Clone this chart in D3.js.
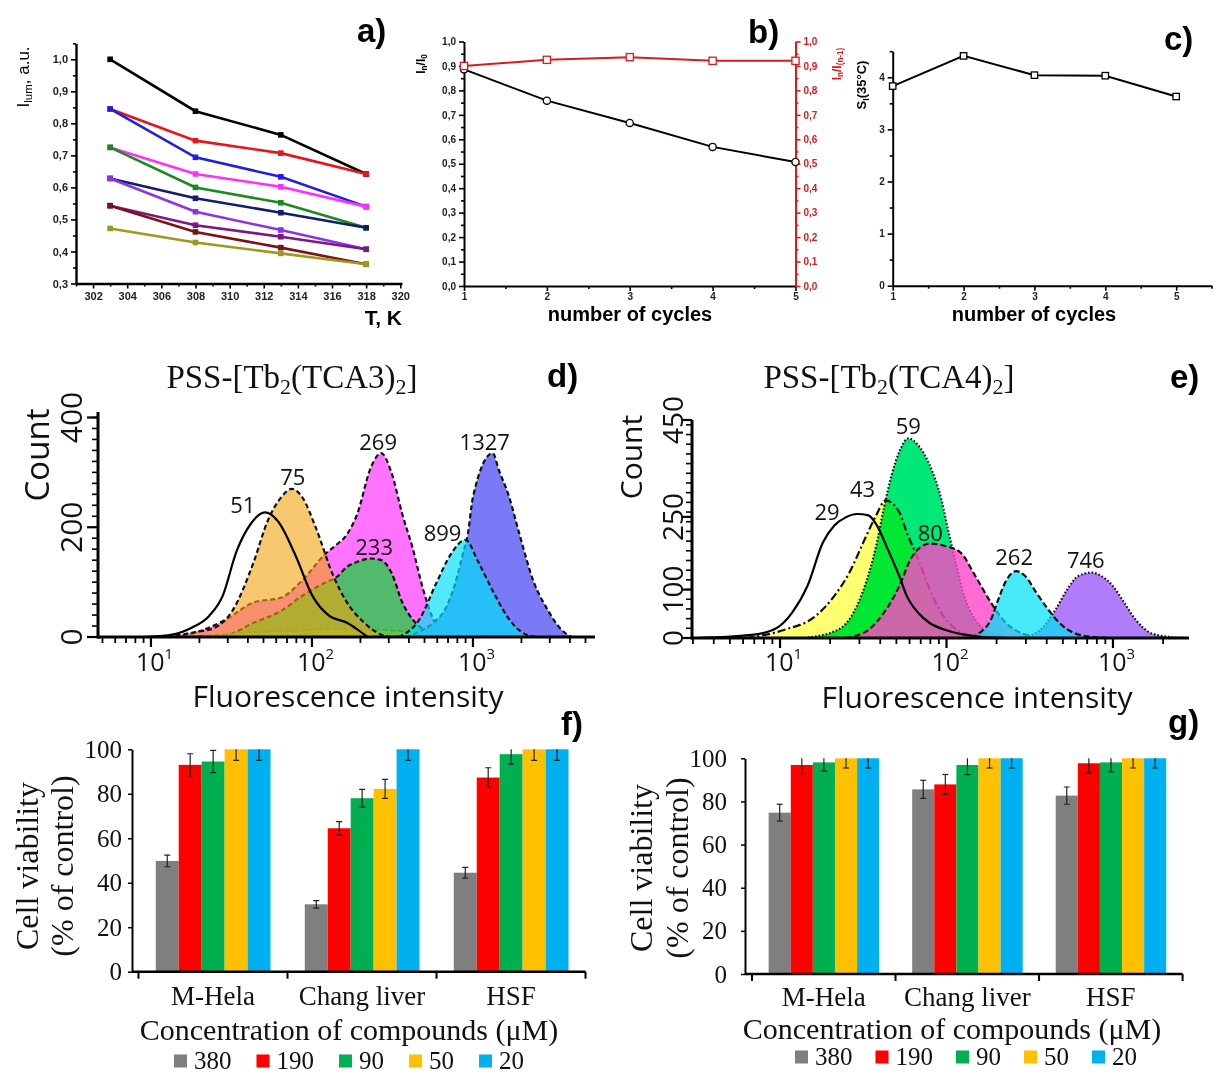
<!DOCTYPE html>
<html>
<head>
<meta charset="utf-8">
<title>Tb complexes: thermometry, cellular uptake and viability</title>
<script src="https://cdn.jsdelivr.net/npm/d3@7/dist/d3.min.js"></script>
<style>
  html, body { margin: 0; padding: 0; background: #ffffff; }
  svg { display: block; }
</style>
</head>
<body>
<svg id="figure" width="1214" height="1076"></svg>
<script>
// ---------- a) luminescence intensity vs temperature ----------
const aTemps = [303, 308, 313, 318];
const aSeries1 = [1.000, 0.838, 0.764, 0.642];
const aSeries2 = [0.845, 0.746, 0.707, 0.642];
const aSeries3 = [0.845, 0.694, 0.633, 0.540];
const aSeries4 = [0.725, 0.642, 0.602, 0.540];
const aSeries5 = [0.725, 0.600, 0.552, 0.474];
const aSeries6 = [0.628, 0.566, 0.521, 0.474];
const aSeries7 = [0.628, 0.524, 0.467, 0.407];
const aSeries8 = [0.543, 0.482, 0.446, 0.407];
const aSeries9 = [0.543, 0.461, 0.412, 0.360];
const aSeries10 = [0.472, 0.428, 0.394, 0.360];
const aColors = ['#000000', '#e8141c', '#1f1fe0', '#ff2eff', '#1c8a1c',
                 '#141c70', '#8a33e8', '#7a1a80', '#7d1212', '#9c9a1e'];

// ---------- b) cycling stability ----------
const bCycles = [1, 2, 3, 4, 5];
const bRatioToFirst = [0.886, 0.758, 0.667, 0.569, 0.507];   // I_n / I_0
const bRatioToPrev = [0.900, 0.925, 0.936, 0.921, 0.921];    // I_n / I_(n-1)

// ---------- c) relative sensitivity at 35 °C ----------
const cCycles = [1, 2, 3, 4, 5];
const cSensitivity = [3.83, 4.41, 4.04, 4.03, 3.63];

// ---------- d) flow cytometry, PSS-[Tb2(TCA3)2]  ([intensity, count]) ----------
const dControl = [[8.97,0],[13.3,4],[17.9,17],[22.9,38],[27.9,75],[34,156],[41.4,205],[51,227],[61.5,211],[78.7,150],[100.7,75],[128.9,38],[165,26],[191,14],[222,0]];
const dPeak75 = [[12.7,0],[19.8,10],[24.1,15],[32.4,50],[43.5,137],[53,211],[64.6,255],[75,270],[86.9,255],[105.8,199],[135.5,112],[165,63],[211,26],[270,4],[300,0]];
const dPeak269 = [[14,0],[19.8,10],[29.3,32],[43.5,63],[64.6,72],[86.9,103],[122.8,153],[142,168],[165,187],[191,224],[233,310],[269,335],[313,298],[364,224],[422,162],[489,88],[567,32],[658,7],[801,0]];
const dPeak233 = [[14,0],[29.3,4],[43.5,26],[64.6,48],[86.9,75],[122.8,100],[142,109],[165,128],[191,137],[233,143],[270,140],[313,116],[364,63],[422,32],[489,14],[596,1],[658,0]];
const dLowTail = [[19.8,0],[43.5,9],[86.9,12],[142,15],[233,14],[382,10],[626,4],[801,0]];
const dPeak899 = [[346,0],[465,32],[596,100],[726,150],[899,177],[1077,137],[1377,75],[1679,32],[2148,4],[2492,0]];
const dPeak1327 = [[382,0],[465,10],[567,26],[690,57],[801,112],[863,150],[929,187],[1000,255],[1327,335],[1449,304],[1679,255],[1946,187],[2372,102],[2891,51],[3525,14],[4084,0]];
const dTicksY = [0, 200, 400];

// ---------- e) flow cytometry, PSS-[Tb2(TCA4)2] ----------
const eControl = [[3.16,0],[6.98,7],[9.58,21],[11.8,52],[14.6,107],[18.1,197],[21.2,232],[24.8,249],[29,256],[34,253],[37.8,235],[44.4,183],[52,128],[57.7,87],[67.6,52],[79.2,31],[97.9,17],[127.6,7],[166,2],[230,0]];
const ePeak43 = [[6.28,0],[10.65,17],[16.3,45],[21.2,87],[26.1,135],[32.3,204],[37.8,253],[43,284],[52,260],[57.7,218],[67.6,163],[79.2,100],[93,52],[115,17],[141,5],[185,0]];
const ePeak59 = [[14,0],[22.3,17],[27.6,52],[32.3,107],[37.8,190],[42,267],[46.8,336],[52,384],[59,412],[67.6,398],[79.2,357],[93,287],[103,218],[115,149],[127.6,87],[149,38],[185,10],[254,0]];
const ePeak80 = [[24.8,0],[34,17],[42,52],[52,107],[60.9,163],[69.4,187],[80,195],[97.9,190],[121,177],[149,128],[185,73],[228,31],[282,10],[367,2],[477,0]];
const ePeak262 = [[141,0],[157,10],[185,38],[205,80],[228,118],[262,138],[297,128],[347,93],[408,59],[477,31],[587,10],[764,2],[945,0]];
const ePeak746 = [[282,0],[367,17],[453,59],[531,100],[620,128],[746,135],[852,128],[1000,107],[1167,73],[1368,38],[1694,10],[2208,2],[2729,0]];
const eTicksY = [0, 100, 250, 450];

// ---------- f), g) cell viability ----------
const cellLines = ['M-Hela', 'Chang liver', 'HSF'];
const concLabels = ['380', '190', '90', '50', '20'];
const concColors = ['#7f7f7f', '#ff0000', '#00b050', '#ffc000', '#00b0f0'];
const f380 = [49.8, 30.3, 44.5];
const f190 = [93.0, 64.5, 87.3];
const f90 = [94.5, 78.0, 97.8];
const f50 = [100, 82.2, 100];
const f20 = [100, 100, 100];
const fErr380 = [2.6, 1.7, 2.4];
const fErr190 = [5.0, 3.0, 4.4];
const fErr90 = [5.0, 4.0, 4.5];
const fErr50 = [5.0, 4.3, 5.0];
const fErr20 = [5.0, 5.0, 5.0];
const g380 = [74.8, 85.6, 82.7];
const g190 = [96.9, 87.9, 97.7];
const g90 = [98.1, 96.9, 98.1];
const g50 = [100, 100, 100];
const g20 = [100, 100, 100];
const gErr380 = [3.9, 4.2, 4.0];
const gErr190 = [4.0, 4.6, 4.5];
const gErr90 = [4.0, 4.5, 4.4];
const gErr50 = [4.5, 4.5, 4.5];
const gErr20 = [4.5, 4.5, 4.5];
const viabilityTicks = [0, 20, 40, 60, 80, 100];

// ====================================================================
const SANS = "'Liberation Sans', Arial, Helvetica, sans-serif";
const SERIF = "'Liberation Serif', 'Times New Roman', serif";
const OPEN = "'Open Sans', 'Noto Sans', sans-serif";

const svg = d3.select('#figure');
svg.append('rect').attr('width', 1214).attr('height', 1076).attr('fill', '#fff');

const comma = d => d3.format('.1f')(d).replace('.', ',');

// Axis with separate major / minor tick sets (Origin style, ticks outward)
function originAxis(parent, scale, orient, pos, majors, minors, o) {
  const make = orient === 'left' ? d3.axisLeft : orient === 'right' ? d3.axisRight : d3.axisBottom;
  const tr = orient === 'bottom' ? `translate(0,${pos})` : `translate(${pos},0)`;
  const color = o.color || '#000';
  const gMin = parent.append('g').attr('transform', tr)
    .call(make(scale).tickValues(minors).tickSize(o.minor || 3).tickFormat(''));
  gMin.select('.domain').remove();
  gMin.selectAll('.tick line').attr('stroke', color).attr('stroke-width', o.tickWidth || 1.6);
  const gMaj = parent.append('g').attr('transform', tr)
    .call(make(scale).tickValues(majors).tickSize(o.major || 5).tickSizeOuter(0)
      .tickPadding(o.pad || 3).tickFormat(o.fmt || (d => d)));
  gMaj.select('.domain').attr('stroke', color).attr('stroke-width', o.width || 2);
  gMaj.selectAll('.tick line').attr('stroke', color).attr('stroke-width', o.tickWidth || 1.6);
  gMaj.selectAll('.tick text')
    .attr('font-family', o.family || SANS).attr('font-size', o.fontSize || 10)
    .attr('font-weight', o.weight || 'bold').attr('fill', o.textColor || '#222');
  return gMaj;
}

function panelLetter(text, x, y) {
  svg.append('text').attr('x', x).attr('y', y).text(text)
    .attr('font-family', SANS).attr('font-weight', 'bold').attr('font-size', 33).attr('fill', '#000');
}

// rotated title made of [text, 'sub'|'sup'|null] runs
function rotatedTitle(x, y, runs, o) {
  const t = svg.append('text')
    .attr('transform', `translate(${x},${y}) rotate(-90)`)
    .attr('text-anchor', 'middle')
    .attr('font-family', o.family || SANS).attr('font-size', o.size)
    .attr('font-weight', o.weight || 'normal').attr('fill', o.color || '#000');
  runs.forEach(([s, kind]) => {
    const ts = t.append('tspan').text(s);
    if (kind === 'sub') ts.attr('font-size', o.size * 0.68).attr('baseline-shift', '-28%');
    if (kind === 'sup') ts.attr('font-size', o.size * 0.68).attr('baseline-shift', '40%');
  });
  return t;
}

// ====================== panel a ======================
{
  const g = svg.append('g');
  const x = d3.scaleLinear().domain([301, 320.1]).range([76, 402]);
  const y = d3.scaleLinear().domain([0.3, 1.05]).range([283.5, 43.3]);
  originAxis(g, x, 'bottom', 283.5, d3.range(302, 321, 2), d3.range(301, 321, 2),
    { fontSize: 11, pad: 4, width: 2.4 });
  originAxis(g, y, 'left', 76, d3.range(3, 11).map(d => d / 10), d3.range(7, 22, 2).map(d => d / 20),
    { fontSize: 11, pad: 3, fmt: comma, width: 2.4 });

  const all = [aSeries1, aSeries2, aSeries3, aSeries4, aSeries5, aSeries6, aSeries7, aSeries8, aSeries9, aSeries10];
  const line = d3.line().x((d, i) => x(aTemps[i])).y(d => y(d));
  all.forEach((vals, si) => {
    g.append('path').attr('d', line(vals)).attr('fill', 'none')
      .attr('stroke', aColors[si]).attr('stroke-width', 2.6);
    g.selectAll(null).data(vals).join('rect')
      .attr('x', (d, i) => x(aTemps[i]) - 2.8).attr('y', d => y(d) - 2.8)
      .attr('width', 5.6).attr('height', 5.6).attr('fill', aColors[si]);
  });

  rotatedTitle(29, 77, [['I', null], ['lum', 'sub'], [', a.u.', null]], { size: 17 });
  svg.append('text').attr('x', 402).attr('y', 325).attr('text-anchor', 'end')
    .attr('font-family', SANS).attr('font-weight', 'bold').attr('font-size', 21).text('T, K');
  panelLetter('a)', 357, 42);
}

// ====================== panel b ======================
{
  const g = svg.append('g');
  const x = d3.scaleLinear().domain([1, 5]).range([464, 795.5]);
  const y = d3.scaleLinear().domain([0, 1]).range([286, 41.5]);
  const red = '#d61c1c';
  originAxis(g, x, 'bottom', 286, [1, 2, 3, 4, 5], [1.5, 2.5, 3.5, 4.5], { fontSize: 10, pad: 2 });
  originAxis(g, y, 'left', 464, d3.range(0, 11).map(d => d / 10), d3.range(1, 20, 2).map(d => d / 20),
    { fontSize: 10, pad: 3, fmt: comma });
  originAxis(g, y, 'right', 795.5, d3.range(0, 11).map(d => d / 10), d3.range(1, 20, 2).map(d => d / 20),
    { fontSize: 10, pad: 3, fmt: comma, color: red, textColor: red });

  const line = d3.line().x((d, i) => x(bCycles[i])).y(d => y(d));
  g.append('path').attr('d', line(bRatioToFirst)).attr('fill', 'none').attr('stroke', '#000').attr('stroke-width', 2);
  g.append('path').attr('d', line(bRatioToPrev)).attr('fill', 'none').attr('stroke', red).attr('stroke-width', 2);
  g.selectAll(null).data(bRatioToFirst).join('circle')
    .attr('cx', (d, i) => x(bCycles[i])).attr('cy', d => y(d)).attr('r', 3.6)
    .attr('fill', '#fff').attr('stroke', '#000').attr('stroke-width', 1.3);
  g.selectAll(null).data(bRatioToPrev).join('rect')
    .attr('x', (d, i) => x(bCycles[i]) - 3.6).attr('y', d => y(d) - 3.6)
    .attr('width', 7.2).attr('height', 7.2)
    .attr('fill', '#fff').attr('stroke', red).attr('stroke-width', 1.3);

  rotatedTitle(425, 64, [['I', null], ['n', 'sub'], ['/I', null], ['0', 'sub']], { size: 12, weight: 'bold' });
  rotatedTitle(841, 64, [['I', null], ['n', 'sub'], ['/I', null], ['(n-1)', 'sub']], { size: 12, weight: 'bold', color: red });
  svg.append('text').attr('x', 630).attr('y', 321).attr('text-anchor', 'middle')
    .attr('font-family', SANS).attr('font-weight', 'bold').attr('font-size', 20).text('number of cycles');
  panelLetter('b)', 748, 43);
}

// ====================== panel c ======================
{
  const g = svg.append('g');
  const x = d3.scaleLinear().domain([1, 5.5]).range([892.7, 1211.6]);
  const y = d3.scaleLinear().domain([0, 4.5]).range([285.7, 51.2]);
  originAxis(g, x, 'bottom', 285.7, [1, 2, 3, 4, 5], [1.5, 2.5, 3.5, 4.5, 5.5], { fontSize: 10, pad: 2 });
  originAxis(g, y, 'left', 892.7, [0, 1, 2, 3, 4], [0.5, 1.5, 2.5, 3.5, 4.5], { fontSize: 10, pad: 3 });

  const line = d3.line().x((d, i) => x(cCycles[i])).y(d => y(d));
  g.append('path').attr('d', line(cSensitivity)).attr('fill', 'none').attr('stroke', '#000').attr('stroke-width', 2);
  g.selectAll(null).data(cSensitivity).join('rect')
    .attr('x', (d, i) => x(cCycles[i]) - 3.2).attr('y', d => y(d) - 3.2)
    .attr('width', 6.4).attr('height', 6.4)
    .attr('fill', '#fff').attr('stroke', '#000').attr('stroke-width', 1.3);

  rotatedTitle(866, 85, [['S', null], ['I', 'sub'], ['(35°C)', null]], { size: 13, weight: 'bold' });
  svg.append('text').attr('x', 1034).attr('y', 321).attr('text-anchor', 'middle')
    .attr('font-family', SANS).attr('font-weight', 'bold').attr('font-size', 20).text('number of cycles');
  panelLetter('c)', 1164, 50);
}

// ====================== flow cytometry panels ======================
function flowPanel(p) {
  const g = svg.append('g');
  const x = d3.scaleLog().domain(p.xDomain).range(p.xRange);
  const y = d3.scaleLinear().domain(p.yDomain).range(p.yRange);
  const area = d3.area().x(d => x(d[0])).y0(y(0)).y1(d => y(d[1])).curve(d3.curveMonotoneX);
  const line = d3.line().x(d => x(d[0])).y(d => y(d[1])).curve(d3.curveMonotoneX);

  p.curves.forEach(c => {
    if (c.fill) {
      g.append('path').attr('d', area(c.data)).attr('fill', c.fill)
        .attr('fill-opacity', c.opacity == null ? 1 : c.opacity)
        .style('mix-blend-mode', c.blend || 'normal');
    }
    g.append('path').attr('d', line(c.data)).attr('fill', 'none')
      .attr('stroke', c.stroke || '#111').attr('stroke-width', c.width || 2.2)
      .attr('stroke-dasharray', c.dash || null).attr('stroke-linecap', 'butt');
  });

  // peak labels, anchored on each peak
  p.labels.forEach(l => {
    g.append('text').attr('x', x(l.v) + l.dx).attr('y', y(l.c) + l.dy)
      .attr('text-anchor', 'middle').attr('font-family', OPEN).attr('font-size', 22)
      .attr('fill', l.color || '#111').text(l.text);
  });

  // axes
  const [x0, x1] = p.xRange;
  const yBase = p.yRange[0];
  g.append('line').attr('x1', x0).attr('x2', x1).attr('y1', yBase).attr('y2', yBase)
    .attr('stroke', '#000').attr('stroke-width', 3.2);
  g.append('line').attr('x1', x0).attr('x2', x0).attr('y1', yBase + 1.6).attr('y2', p.yRange[1])
    .attr('stroke', '#000').attr('stroke-width', 3);

  const decades = p.decades;
  const minorX = [];
  d3.range(Math.floor(Math.log10(p.xDomain[0])), Math.ceil(Math.log10(p.xDomain[1])))
    .forEach(e => d3.range(2, 10).forEach(k => {
      const v = k * Math.pow(10, e);
      if (v >= p.xDomain[0] && v <= p.xDomain[1]) minorX.push(v);
    }));
  g.selectAll(null).data(minorX).join('line')
    .attr('x1', d => x(d)).attr('x2', d => x(d)).attr('y1', yBase).attr('y2', yBase + 6)
    .attr('stroke', '#000').attr('stroke-width', 1.8);
  g.selectAll(null).data(decades).join('line')
    .attr('x1', d => x(d)).attr('x2', d => x(d)).attr('y1', yBase).attr('y2', yBase + 10)
    .attr('stroke', '#000').attr('stroke-width', 2.2);
  decades.forEach(d => {
    const t = g.append('text').attr('x', x(d) - 15).attr('y', 671)
      .attr('font-family', OPEN).attr('font-size', 25).attr('fill', '#111');
    t.append('tspan').text('10');
    t.append('tspan').text(Math.round(Math.log10(d))).attr('font-size', 15).attr('dy', -12);
  });

  const minorY = d3.range(0, p.yDomain[1] + 0.1, p.yMinorStep);
  g.selectAll(null).data(minorY).join('line')
    .attr('x1', x0).attr('x2', x0 - 6).attr('y1', d => y(d)).attr('y2', d => y(d))
    .attr('stroke', '#000').attr('stroke-width', 1.6);
  g.selectAll(null).data(p.yTicks).join('line')
    .attr('x1', x0).attr('x2', x0 - 11).attr('y1', d => y(d)).attr('y2', d => y(d))
    .attr('stroke', '#000').attr('stroke-width', 2.2);
  g.selectAll(null).data(p.yTicks).join('text')
    .attr('transform', d => `translate(${p.yLabelX},${y(d)}) rotate(-90)`)
    .attr('text-anchor', 'middle').attr('font-family', OPEN).attr('font-size', p.yLabelSize)
    .attr('fill', '#111').text(d => d);

  rotatedTitle(p.countX, p.countY, [['Count', null]], { family: OPEN, size: p.countSize, color: '#111' });
  svg.append('text').attr('x', p.xTitleX).attr('y', p.xTitleY).attr('text-anchor', 'middle')
    .attr('font-family', OPEN).attr('font-size', 30).attr('fill', '#111').text('Fluorescence intensity');

  const title = svg.append('text').attr('x', p.titleX).attr('y', 388).attr('text-anchor', 'middle')
    .attr('font-family', SERIF).attr('font-size', 33).attr('fill', '#111');
  title.append('tspan').text('PSS-[Tb');
  title.append('tspan').text('2').attr('font-size', 22).attr('dy', 6);
  title.append('tspan').text(p.ligand).attr('dy', -6);
  title.append('tspan').text('2').attr('font-size', 22).attr('dy', 6);
  title.append('tspan').text(']').attr('dy', -6);
}

flowPanel({
  xDomain: [4.69, 5728], xRange: [98, 595],
  yDomain: [0, 410], yRange: [637, 412],
  decades: [10, 100, 1000], yTicks: dTicksY, yMinorStep: 20,
  yLabelX: 82, yLabelSize: 30, countX: 49, countY: 455, countSize: 33,
  xTitleX: 348, xTitleY: 707, titleX: 292, ligand: '(TCA3)',
  curves: [
    { data: dPeak269, fill: 'rgb(255,115,255)', dash: '5,3' },
    { data: dPeak233, fill: 'rgb(82,186,108)', dash: '5,3' },
    { data: dLowTail, fill: 'rgb(110,205,60)', opacity: 0.55, stroke: '#4aa83a', dash: '5,3', width: 1.8 },
    { data: dPeak75, fill: 'rgb(243,163,13)', opacity: 0.6, dash: '5,3' },
    { data: dPeak1327, fill: 'rgb(122,122,246)', dash: '5,3' },
    { data: dPeak899, fill: 'rgb(0,224,247)', opacity: 0.68, dash: '5,3' },
    { data: dControl, fill: null, stroke: '#000', width: 2.2 }
  ],
  labels: [
    { text: '51', v: 51, c: 227, dx: -22, dy: 1 },
    { text: '75', v: 75, c: 270, dx: 1, dy: -4 },
    { text: '269', v: 269, c: 335, dx: -3, dy: -3 },
    { text: '233', v: 233, c: 143, dx: 3, dy: -4 },
    { text: '899', v: 899, c: 177, dx: -23, dy: 1 },
    { text: '1327', v: 1327, c: 335, dx: -8, dy: -3 }
  ]
});
panelLetter('d)', 547, 387);

flowPanel({
  xDomain: [2.96, 2863], xRange: [692, 1189],
  yDomain: [0, 450], yRange: [638, 420],
  decades: [10, 100, 1000], yTicks: eTicksY, yMinorStep: 20,
  yLabelX: 683, yLabelSize: 28, countX: 642, countY: 457, countSize: 30,
  xTitleX: 977, xTitleY: 708, titleX: 889, ligand: '(TCA4)',
  curves: [
    { data: ePeak59, fill: 'rgb(0,232,118)', dash: '1.6,2' },
    { data: ePeak43, fill: 'rgb(255,255,112)', blend: 'multiply', dash: '8,3,2,3' },
    { data: ePeak80, fill: 'rgb(255,70,200)', opacity: 0.8, dash: '6,3' },
    { data: ePeak746, fill: 'rgb(176,124,250)', dash: '1.6,2' },
    { data: ePeak262, fill: 'rgb(0,226,247)', opacity: 0.72, dash: '6,3' },
    { data: eControl, fill: null, stroke: '#000', width: 2.2 }
  ],
  labels: [
    { text: '29', v: 29, c: 256, dx: -30, dy: 6 },
    { text: '43', v: 43, c: 284, dx: -23, dy: -3 },
    { text: '59', v: 59, c: 412, dx: 0, dy: -4 },
    { text: '80', v: 80, c: 195, dx: 0, dy: -3 },
    { text: '262', v: 262, c: 138, dx: -2, dy: -6 },
    { text: '746', v: 746, c: 135, dx: -6, dy: -5 }
  ]
});
panelLetter('e)', 1170, 388);

// ====================== viability panels ======================
function viabilityPanel(p) {
  const g = svg.append('g');
  const y = d3.scaleLinear().domain([0, 100]).range([p.y0, p.y100]);
  const x0 = d3.scaleBand().domain(cellLines).range(p.bandRange);
  const bw = x0.bandwidth();
  const x1 = d3.scaleBand().domain(concLabels).range([bw * 0.116, bw * 0.886]);

  const rows = [];
  p.values.forEach((vals, si) => vals.forEach((v, gi) =>
    rows.push({ line: cellLines[gi], conc: concLabels[si], color: concColors[si], v, err: p.errors[si][gi] })));

  g.selectAll(null).data(rows).join('rect')
    .attr('x', d => x0(d.line) + x1(d.conc)).attr('width', x1.bandwidth())
    .attr('y', d => y(d.v)).attr('height', d => y(0) - y(d.v)).attr('fill', d => d.color);

  const clipId = 'clip' + p.id;
  svg.append('clipPath').attr('id', clipId).append('rect')
    .attr('x', p.bandRange[0]).attr('y', p.y100).attr('width', p.bandRange[1] - p.bandRange[0])
    .attr('height', p.y0 - p.y100);
  const eb = g.append('g').attr('clip-path', `url(#${clipId})`).attr('stroke', '#222').attr('stroke-width', 1.2);
  rows.forEach(d => {
    const cx = x0(d.line) + x1(d.conc) + x1.bandwidth() / 2;
    const yt = y(d.v + d.err), yb = y(d.v - d.err);
    eb.append('line').attr('x1', cx).attr('x2', cx).attr('y1', yt).attr('y2', yb);
    eb.append('line').attr('x1', cx - 3).attr('x2', cx + 3).attr('y1', yt).attr('y2', yt);
    eb.append('line').attr('x1', cx - 3).attr('x2', cx + 3).attr('y1', yb).attr('y2', yb);
  });

  // y axis
  const ya = g.append('g').attr('transform', `translate(${p.axisX},0)`)
    .call(d3.axisLeft(y).tickValues(viabilityTicks).tickSize(4).tickSizeOuter(0).tickPadding(p.tickPad));
  ya.select('.domain').attr('stroke', '#000').attr('stroke-width', 2);
  ya.selectAll('.tick line').attr('stroke', '#000').attr('stroke-width', 1.5);
  ya.selectAll('.tick text').attr('font-family', SERIF).attr('font-size', 25).attr('fill', '#111');

  // category axis
  g.append('line').attr('x1', p.axisX).attr('x2', p.bandRange[1]).attr('y1', p.y0).attr('y2', p.y0)
    .attr('stroke', '#000').attr('stroke-width', 2.6);
  const bounds = cellLines.map(c => x0(c)).concat([p.bandRange[1]]);
  g.selectAll(null).data(bounds).join('line')
    .attr('x1', d => d).attr('x2', d => d).attr('y1', p.y0).attr('y2', p.y0 + 7)
    .attr('stroke', '#000').attr('stroke-width', 2);
  g.selectAll(null).data(cellLines).join('text')
    .attr('x', d => x0(d) + bw / 2 + p.catShift).attr('y', p.catY).attr('text-anchor', 'middle')
    .attr('font-family', SERIF).attr('font-size', 27).attr('fill', '#111').text(d => d);

  svg.append('text').attr('x', p.xTitleX).attr('y', p.xTitleY).attr('text-anchor', 'middle')
    .attr('font-family', SERIF).attr('font-size', 30).attr('fill', '#111')
    .text('Concentration of compounds (\u03bcM)');
  rotatedTitle(p.titleX1, p.titleY, [['Cell viability', null]], { family: SERIF, size: 32, color: '#111' });
  rotatedTitle(p.titleX2, p.titleY, [['(% of control)', null]], { family: SERIF, size: 32, color: '#111' });

  // legend
  const lg = svg.append('g');
  let cx = p.legendX;
  concLabels.forEach((c, i) => {
    lg.append('rect').attr('x', cx).attr('y', p.legendY - 6.5).attr('width', 13).attr('height', 13)
      .attr('fill', concColors[i]);
    const t = lg.append('text').attr('x', cx + 20).attr('y', p.legendY + 8)
      .attr('font-family', SERIF).attr('font-size', 25).attr('fill', '#111').text(c);
    cx += 20 + t.node().getComputedTextLength() + p.legendGap;
  });
}

viabilityPanel({
  id: 'f', y0: 971.7, y100: 749.3, bandRange: [138.5, 585.5], axisX: 132, tickPad: 6,
  values: [f380, f190, f90, f50, f20], errors: [fErr380, fErr190, fErr90, fErr50, fErr20],
  catY: 1005, catShift: 0, xTitleX: 349, xTitleY: 1040,
  titleX1: 38, titleX2: 73, titleY: 866, legendX: 174, legendY: 1061, legendGap: 25
});
panelLetter('f)', 561, 735);

viabilityPanel({
  id: 'g', y0: 974, y100: 758.3, bandRange: [752, 1182.6], axisX: 745, tickPad: 14,
  values: [g380, g190, g90, g50, g20], errors: [gErr380, gErr190, gErr90, gErr50, gErr20],
  catY: 1006, catShift: 0, xTitleX: 952, xTitleY: 1039,
  titleX1: 652, titleX2: 688, titleY: 868, legendX: 795, legendY: 1057, legendGap: 23
});
panelLetter('g)', 1168, 733);
</script>
</body>
</html>
